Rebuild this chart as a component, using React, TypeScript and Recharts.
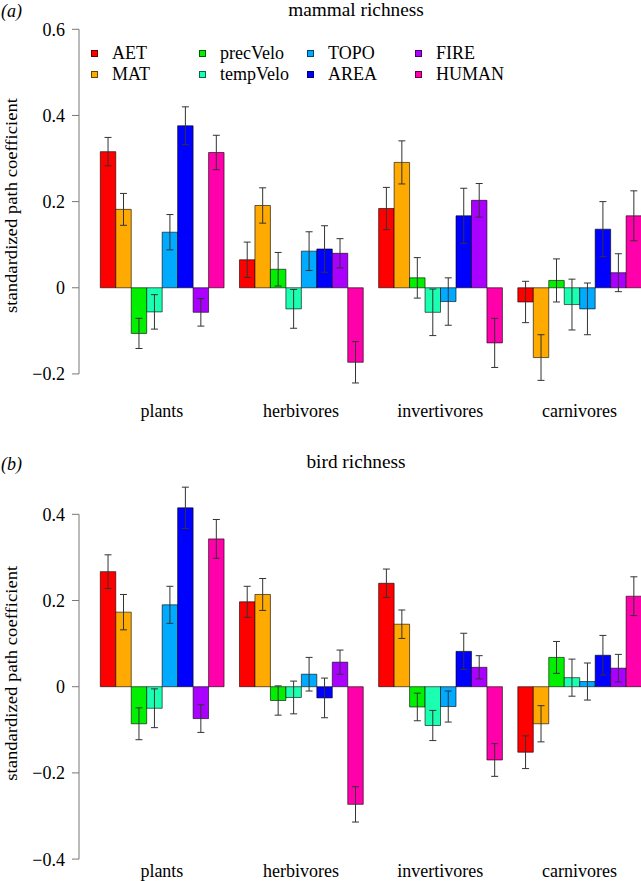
import React from 'react';
import { BarChart, Bar, XAxis, YAxis, ErrorBar, Legend, ReferenceLine } from 'recharts';

const groups = ['plants', 'herbivores', 'invertivores', 'carnivores'];
const predictors = ['AET', 'MAT', 'precVelo', 'tempVelo', 'TOPO', 'AREA', 'FIRE', 'HUMAN'];
const colors = ['#ff0000', '#ffaa00', '#00f000', '#1affb0', '#00aaff', '#0000ff', '#aa00ff', '#ff00aa'];

// mammal richness: coefficients per trophic group, in predictor order
const mammalPlants = [0.316, 0.182, -0.106, -0.056, 0.129, 0.376, -0.057, 0.314];
const mammalHerbivores = [0.065, 0.191, 0.043, -0.049, 0.085, 0.09, 0.08, -0.173];
const mammalInvertivores = [0.184, 0.291, 0.023, -0.057, -0.032, 0.167, 0.203, -0.128];
const mammalCarnivores = [-0.033, -0.162, 0.017, -0.039, -0.049, 0.136, 0.035, 0.167];
const mammalPlantsErr = [0.033, 0.037, 0.035, 0.04, 0.041, 0.044, 0.032, 0.04];
const mammalHerbivoresErr = [0.041, 0.041, 0.039, 0.045, 0.045, 0.054, 0.034, 0.048];
const mammalInvertivoresErr = [0.049, 0.05, 0.047, 0.054, 0.055, 0.064, 0.039, 0.057];
const mammalCarnivoresErr = [0.048, 0.053, 0.05, 0.059, 0.06, 0.064, 0.044, 0.058];

// bird richness
const birdPlants = [0.267, 0.173, -0.086, -0.05, 0.19, 0.415, -0.074, 0.343];
const birdHerbivores = [0.197, 0.214, -0.032, -0.025, 0.029, -0.026, 0.057, -0.273];
const birdInvertivores = [0.24, 0.145, -0.047, -0.09, -0.046, 0.082, 0.045, -0.17];
const birdCarnivores = [-0.152, -0.086, 0.068, 0.021, 0.012, 0.073, 0.043, 0.21];
const birdPlantsErr = [0.039, 0.041, 0.037, 0.045, 0.043, 0.048, 0.032, 0.045];
const birdHerbivoresErr = [0.036, 0.037, 0.034, 0.038, 0.039, 0.046, 0.028, 0.041];
const birdInvertivoresErr = [0.033, 0.033, 0.032, 0.035, 0.036, 0.042, 0.027, 0.038];
const birdCarnivoresErr = [0.038, 0.042, 0.037, 0.043, 0.043, 0.046, 0.032, 0.045];

const mammalTicks = [-0.2, 0, 0.2, 0.4, 0.6];
const birdTicks = [-0.4, -0.2, 0, 0.2, 0.4];

const FONT = "'Liberation Serif', 'Times New Roman', serif";
const AXIS = '#777';
const BORDER = 'rgba(0,0,0,0.6)';
const ERR = '#333';

function buildRows(values: number[][], errors: number[][]) {
  return groups.map((g, gi) => {
    const row: Record<string, string | number> = { group: g };
    predictors.forEach((p, pi) => {
      row[p] = values[gi][pi];
      row[`${p}_err`] = errors[gi][pi];
    });
    return row;
  });
}

const mammalRows = buildRows(
  [mammalPlants, mammalHerbivores, mammalInvertivores, mammalCarnivores],
  [mammalPlantsErr, mammalHerbivoresErr, mammalInvertivoresErr, mammalCarnivoresErr]
);
const birdRows = buildRows(
  [birdPlants, birdHerbivores, birdInvertivores, birdCarnivores],
  [birdPlantsErr, birdHerbivoresErr, birdInvertivoresErr, birdCarnivoresErr]
);

const fmt = (v: number) => (v < 0 ? `\u2212${Math.abs(v)}` : `${v}`);

function LegendGrid() {
  return (
    <div
      style={{
        display: 'grid',
        gridTemplateColumns: 'repeat(4, 108px)',
        gridTemplateRows: 'repeat(2, 20.7px)',
        gridAutoFlow: 'column',
        fontFamily: FONT,
        fontSize: 18,
        lineHeight: '20.7px',
        color: '#000',
      }}
    >
      {predictors.map((p, i) => (
        <div key={p} style={{ display: 'flex', alignItems: 'center' }}>
          <span
            style={{
              width: 5,
              height: 5,
              background: colors[i],
              border: `1px solid ${BORDER}`,
              marginRight: 14,
              flex: 'none',
            }}
          />
          <span>{p}</span>
        </div>
      ))}
    </div>
  );
}

interface PanelProps {
  rows: Record<string, string | number>[];
  domain: [number, number];
  ticks: number[];
  height: number;
  marginTop: number;
  marginBottom: number;
  xAxisHeight: number;
  labelDy: number;
  legend?: boolean;
}

function Panel({ rows, domain, ticks, height, marginTop, marginBottom, xAxisHeight, labelDy, legend }: PanelProps) {
  return (
    <BarChart
      width={649}
      height={height}
      data={rows}
      margin={{ top: marginTop, right: 0, bottom: marginBottom, left: 0 }}
      barGap={0}
      barSize={15.47}
    >
      <XAxis
        dataKey="group"
        padding={{ left: 13.3, right: 0 }}
        axisLine={false}
        tickLine={false}
        tickSize={0}
        tickMargin={0}
        height={xAxisHeight}
        interval={0}
        tick={(p: any) => (
          <text x={p.x} y={p.y + labelDy} textAnchor="middle" fontFamily={FONT} fontSize={18} fill="#000">
            {p.payload.value}
          </text>
        )}
      />
      <XAxis xAxisId="frame" type="number" domain={[0, 1]} hide />
      <YAxis
        width={79}
        type="number"
        domain={domain}
        ticks={ticks}
        allowDataOverflow
        axisLine={false}
        tickSize={7}
        tickMargin={7}
        tickLine={{ stroke: AXIS }}
        tick={(p: any) => (
          <text x={p.x} y={p.y + 6.5} textAnchor="end" fontFamily={FONT} fontSize={18} fill="#000">
            {fmt(p.payload.value)}
          </text>
        )}
      />
      <ReferenceLine
        xAxisId="frame"
        segment={[
          { x: 0, y: ticks[0] },
          { x: 0, y: ticks[ticks.length - 1] },
        ]}
        stroke={AXIS}
        strokeWidth={1}
        ifOverflow="visible"
      />
      {predictors.map((p, i) => (
        <Bar key={p} dataKey={p} name={p} fill={colors[i]} stroke={BORDER} strokeWidth={1} isAnimationActive={false}>
          <ErrorBar dataKey={`${p}_err`} direction="y" width={3.5} stroke={ERR} strokeWidth={1} />
        </Bar>
      ))}
      {legend && (
        <Legend
          layout="vertical"
          align="center"
          verticalAlign="middle"
          wrapperStyle={{ top: 43, left: 91, width: 440 }}
          content={() => <LegendGrid />}
        />
      )}
    </BarChart>
  );
}

export default function App() {
  return (
    <div style={{ position: 'relative', width: 641, height: 881, overflow: 'hidden', background: '#fff' }}>
      <style>{'body{margin:0}'}</style>
      <div style={{ position: 'absolute', left: 0, top: 0 }}>
        <Panel
          rows={mammalRows}
          domain={[-0.222, 0.6]}
          ticks={mammalTicks}
          height={440}
          marginTop={29.3}
          marginBottom={26.6}
          xAxisHeight={30}
          labelDy={33.3}
          legend
        />
      </div>
      <div style={{ position: 'absolute', left: 0, top: 440 }}>
        <Panel
          rows={birdRows}
          domain={[-0.4, 0.465]}
          ticks={birdTicks}
          height={441}
          marginTop={46.3}
          marginBottom={0}
          xAxisHeight={21.9}
          labelDy={17.6}
        />
      </div>
      <svg
        width={641}
        height={881}
        style={{ position: 'absolute', left: 0, top: 0, pointerEvents: 'none' }}
        fontFamily={FONT}
        fontSize={18}
      >
        <text x={1} y={16.5} fontStyle="italic">(a)</text>
        <text x={356} y={16.3} textAnchor="middle" fontSize={19.3}>mammal richness</text>
        <text x={1} y={470} fontStyle="italic">(b)</text>
        <text x={356} y={468} textAnchor="middle" fontSize={19.3}>bird richness</text>
        <text
          transform="translate(17,205.5) rotate(-90)"
          textAnchor="middle"
          fontSize={17}
          textLength={215}
          lengthAdjust="spacingAndGlyphs"
        >
          standardized path coefficient
        </text>
        <text
          transform="translate(17,673.3) rotate(-90)"
          textAnchor="middle"
          fontSize={17}
          textLength={215}
          lengthAdjust="spacingAndGlyphs"
        >
          standardized path coefficient
        </text>
      </svg>
    </div>
  );
}
